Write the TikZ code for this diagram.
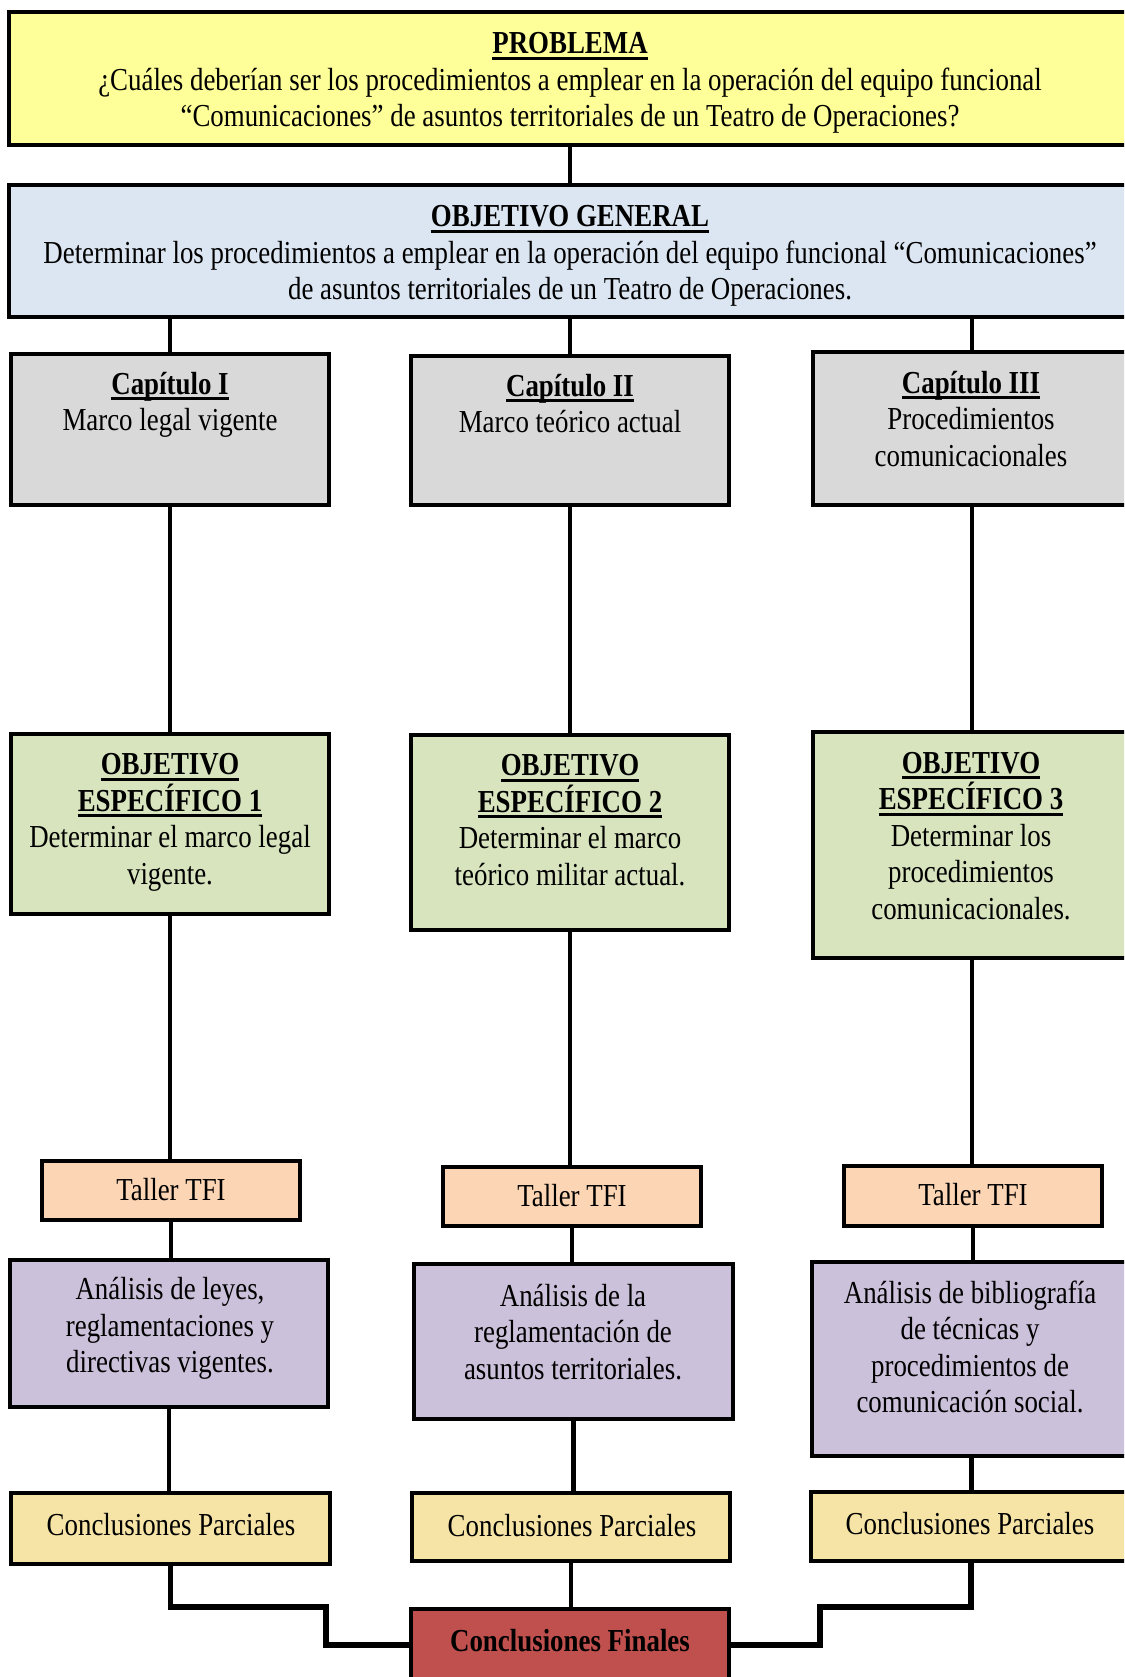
\documentclass[tikz,border=0pt]{standalone}
\usepackage{fontspec}
\setmainfont{Liberation Serif}[FakeStretch=0.84]
\definecolor{cprob}{RGB}{255,255,153}
\definecolor{cgen}{RGB}{220,230,242}
\definecolor{ccap}{RGB}{217,217,217}
\definecolor{coe}{RGB}{215,228,189}
\definecolor{ctal}{RGB}{252,213,181}
\definecolor{cana}{RGB}{204,193,218}
\definecolor{ccp}{RGB}{246,228,166}
\definecolor{ccf}{RGB}{192,80,77}
\newcommand\hul[1]{\leavevmode\setbox0=\hbox{#1}\rlap{\vrule width\wd0 height -3pt depth 6pt}\box0}
\begin{document}
\begin{tikzpicture}[x=1pt,y=-1pt,
  box/.style={draw=black,line width=4.5pt,inner sep=0pt,minimum width=#1},
  box/.default=318pt,
  txt/.style={align=center,inner sep=0pt,font=\fontsize{32}{36.5}\selectfont},
  conn/.style={draw=black,line width=4.5pt},
  connb/.style={draw=black,line width=5.5pt}]
\useasboundingbox (0,0) rectangle (1124,1677);
\fill[white] (0,0) rectangle (1124,1677);
\clip (0,0) rectangle (1124,1677);
% boxes
\node[box=1122pt,fill=cprob,minimum height=133pt] (prob) at (570,78.5) {};
\node[box=1122pt,fill=cgen,minimum height=132pt] (gen) at (570,251) {};
\node[box,fill=ccap,minimum height=151pt] (capI) at (170,429.5) {};
\node[box,fill=ccap,minimum height=149pt] (capII) at (570,430.5) {};
\node[box,fill=ccap,minimum height=153pt] (capIII) at (972,428.5) {};
\node[box,fill=coe,minimum height=180pt] (oe1) at (170,824) {};
\node[box,fill=coe,minimum height=195pt] (oe2) at (570,832.5) {};
\node[box,fill=coe,minimum height=226pt] (oe3) at (972,845) {};
\node[box=258pt,fill=ctal,minimum height=59pt] (t1) at (171,1190.5) {};
\node[box=258pt,fill=ctal,minimum height=59pt] (t2) at (572,1196.5) {};
\node[box=258pt,fill=ctal,minimum height=60pt] (t3) at (973,1196) {};
\node[box,fill=cana,minimum height=147pt] (a1) at (169,1333.5) {};
\node[box=319pt,fill=cana,minimum height=155pt] (a2) at (573.5,1341.5) {};
\node[box=319pt,fill=cana,minimum height=194pt] (a3) at (971.5,1359) {};
\node[box=319pt,fill=ccp,minimum height=71pt] (cp1) at (170.5,1528.5) {};
\node[box,fill=ccp,minimum height=68pt] (cp2) at (571,1527) {};
\node[box=320pt,fill=ccp,minimum height=69pt] (cp3) at (971,1526.5) {};
\node[box,fill=ccf,minimum height=91pt] (cf) at (570,1654.5) {};
% texts
\node[txt] (probt) at (570,83) {\textbf{\hul{PROBLEMA}}\\¿Cuáles deberían ser los procedimientos a emplear en la operación del equipo funcional\\“Comunicaciones” de asuntos territoriales de un Teatro de Operaciones?};
\node[txt] (gent) at (570,256) {\textbf{\hul{OBJETIVO GENERAL}}\\Determinar los procedimientos a emplear en la operación del equipo funcional “Comunicaciones”\\de asuntos territoriales de un Teatro de Operaciones.};
\node[txt] (capIt) at (170,405) {\textbf{\hul{Capítulo I}}\\Marco legal vigente};
\node[txt] (capIIt) at (570,403.5) {\textbf{\hul{Capítulo II}}\\Marco teórico actual};
\node[txt] (capIIIt) at (971,419) {\textbf{\hul{Capítulo III}}\\Procedimientos\\comunicacionales};
\node[txt] (oe1t) at (170,822.5) {\textbf{\hul{OBJETIVO}}\\\textbf{\hul{ESPECÍFICO 1}}\\Determinar el marco legal\\vigente.};
\node[txt] (oe2t) at (570,820) {\textbf{\hul{OBJETIVO}}\\\textbf{\hul{ESPECÍFICO 2}}\\Determinar el marco\\teórico militar actual.};
\node[txt] (oe3t) at (971,836) {\textbf{\hul{OBJETIVO}}\\\textbf{\hul{ESPECÍFICO 3}}\\Determinar los\\procedimientos\\comunicacionales.};
\node[txt] (t1t) at (171,1190) {Taller TFI};
\node[txt] (t2t) at (572,1196) {Taller TFI};
\node[txt] (t3t) at (973,1195) {Taller TFI};
\node[txt] (a1t) at (170,1328.5) {Análisis de leyes,\\reglamentaciones y\\directivas vigentes.};
\node[txt] (a2t) at (573,1332) {Análisis de la\\reglamentación de\\asuntos territoriales.};
\node[txt] (a3t) at (970,1347) {Análisis de bibliografía\\de técnicas y\\procedimientos de\\comunicación social.};
\node[txt] (cp1t) at (171,1525) {Conclusiones Parciales};
\node[txt] (cp2t) at (572,1526) {Conclusiones Parciales};
\node[txt] (cp3t) at (970,1524) {Conclusiones Parciales};
\node[txt] (cft) at (570,1641) {\textbf{Conclusiones Finales}};
% connectors
\draw[conn] (prob.south) -- (gen.north);
\draw[conn] (capI.north |- gen.south) -- (capI.north);
\draw[conn] (capII.north |- gen.south) -- (capII.north);
\draw[conn] (capIII.north |- gen.south) -- (capIII.north);
\draw[conn] (capI.south) -- (capI.south |- oe1.north);
\draw[conn] (capII.south) -- (capII.south |- oe2.north);
\draw[conn] (capIII.south) -- (capIII.south |- oe3.north);
\draw[conn] (oe1.south) -- (oe1.south |- t1.north);
\draw[conn] (oe2.south) -- (oe2.south |- t2.north);
\draw[conn] (oe3.south) -- (oe3.south |- t3.north);
\draw[conn] (t1.south) -- (t1.south |- a1.north);
\draw[conn] (t2.south) -- (t2.south |- a2.north);
\draw[conn] (t3.south) -- (t3.south |- a3.north);
\draw[conn] (a1.south) -- (a1.south |- cp1.north);
\draw[conn] (a2.south) -- (a2.south |- cp2.north);
\draw[conn] (a3.south) -- (a3.south |- cp3.north);
\draw[conn] (cp2.south) -- (cp2.south |- cf.north);
\coordinate (j1) at (326,1607);
\coordinate (j2) at (326,1645);
\coordinate (j3) at (820,1607);
\coordinate (j4) at (820,1645);
\draw[connb] (cp1.south) |- (j1) -- (j2) -- (cf.west |- j2);
\draw[connb] (cp3.south) |- (j3) -- (j4) -- (cf.east |- j4);
\end{tikzpicture}
\end{document}
